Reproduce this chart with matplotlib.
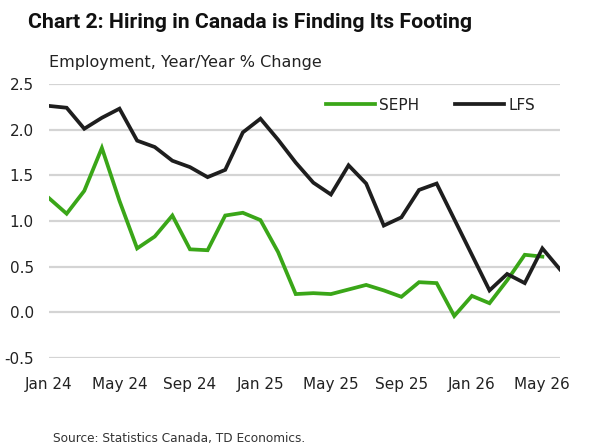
import matplotlib
matplotlib.use("Agg")
import matplotlib.pyplot as plt
import numpy as np

months = ["Jan 24", "Feb 24", "Mar 24", "Apr 24", "May 24", "Jun 24", "Jul 24", "Aug 24",
          "Sep 24", "Oct 24", "Nov 24", "Dec 24", "Jan 25", "Feb 25", "Mar 25", "Apr 25",
          "May 25", "Jun 25", "Jul 25", "Aug 25", "Sep 25", "Oct 25", "Nov 25", "Dec 25",
          "Jan 26", "Feb 26", "Mar 26", "Apr 26", "May 26", "Jun 26"]

seph = [1.25, 1.08, 1.33, 1.80, 1.22, 0.70, 0.83, 1.06, 0.69, 0.68, 1.06, 1.09, 1.01, 0.66,
        0.20, 0.21, 0.20, 0.25, 0.30, 0.24, 0.17, 0.33, 0.32, -0.04, 0.18, 0.10, 0.35, 0.63,
        0.61, np.nan]

lfs = [2.26, 2.24, 2.01, 2.13, 2.23, 1.88, 1.81, 1.66, 1.59, 1.48, 1.56, 1.97, 2.12, 1.89,
       1.64, 1.42, 1.29, 1.61, 1.41, 0.95, 1.04, 1.34, 1.41, 1.02, 0.63, 0.24, 0.42, 0.32,
       0.70, 0.47]

yticks = [-0.5, 0.0, 0.5, 1.0, 1.5, 2.0, 2.5]
xtick_labels = ["Jan 24", "May 24", "Sep 24", "Jan 25", "May 25", "Sep 25", "Jan 26", "May 26"]

GREEN = "#3aa618"
BLACK = "#1e1e1e"

fig = plt.figure(figsize=(6.0, 4.48), dpi=100)
ax = fig.add_axes([0.0817, 0.2009, 0.8516, 0.6116])

x = np.arange(len(months))
ax.plot(x, seph, color=GREEN, lw=2.7, label="SEPH", solid_joinstyle="miter")
ax.plot(x, lfs, color=BLACK, lw=2.7, label="LFS", solid_joinstyle="miter")

ax.set_xlim(0, len(months) - 1)
ax.set_ylim(-0.5, 2.5)
ax.set_yticks(yticks)
ax.set_yticklabels([f"{v:.1f}" for v in yticks])
tick_pos = [months.index(m) for m in xtick_labels]
ax.set_xticks(tick_pos)
ax.set_xticklabels(xtick_labels)

for s in ax.spines.values():
    s.set_visible(False)
ax.tick_params(axis="both", length=0, labelsize=11, colors="#222222")
ax.tick_params(axis="y", pad=11)
ax.tick_params(axis="x", pad=14)
ax.grid(axis="y", color="#d4d4d4", lw=1.6)
ax.set_axisbelow(True)

leg = ax.legend(loc="center left", bbox_to_anchor=(0.542, 0.923), ncol=2, frameon=False,
                fontsize=11, handlelength=3.2, handletextpad=0.3, columnspacing=2.3,
                borderaxespad=0, borderpad=0)
for t in leg.get_texts():
    t.set_color("#222222")

fig.text(28 / 600, 1 - 22 / 448, "Chart 2: Hiring in Canada is Finding Its Footing",
         fontsize=15.3, fontweight="bold", family="Roboto", va="center", ha="left", color="#111111")
fig.text(49 / 600, 1 - 62 / 448, "Employment, Year/Year % Change",
         fontsize=11.5, va="center", ha="left", color="#222222")
fig.text(53 / 600, 1 - 438 / 448, "Source: Statistics Canada, TD Economics.",
         fontsize=8.7, va="center", ha="left", color="#333333")

fig.savefig("out.png", dpi=100)
